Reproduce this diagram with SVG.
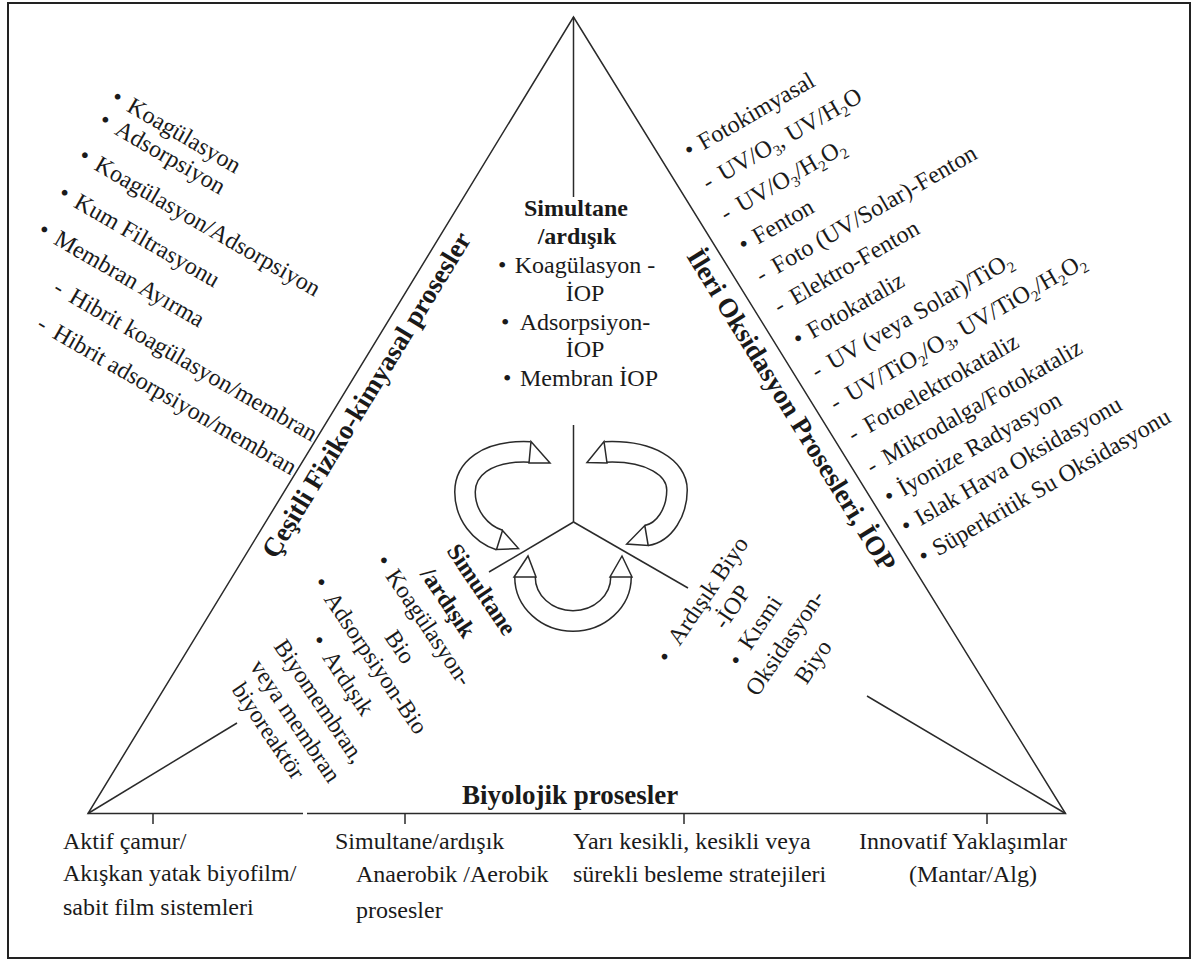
<svg xmlns="http://www.w3.org/2000/svg" width="1198" height="974" viewBox="0 0 1198 974">
<style>
.t{font-family:"Liberation Serif","Times New Roman",serif;font-size:24px;fill:#1a1a1a}
.b{font-weight:bold}
.L{font-size:27px;font-weight:bold}
.m{text-anchor:middle}
.s{font-size:15px}
.ln{stroke:#2a2a2a;stroke-width:1.5;fill:none}
.bo{fill:none;stroke:#2a2a2a;stroke-width:22}
.bi{fill:none;stroke:#fff;stroke-width:19}
.hd{fill:#fff;stroke:#2a2a2a;stroke-width:1.5;stroke-linejoin:miter}
</style>
<rect x="0" y="0" width="1198" height="974" fill="#fff"/>
<rect x="8" y="3" width="1182" height="955" fill="none" stroke="#222" stroke-width="2"/>

<g id="connectors" class="ln">
  <path d="M303,813.5 L88,813.5 L573.5,17 L1065.5,813.5 L307,813.5"/>
  <line x1="573.5" y1="17" x2="573.5" y2="197"/>
  <line x1="573.5" y1="425" x2="573.5" y2="522"/>
  <line x1="573.5" y1="522" x2="489" y2="572"/>
  <line x1="573.5" y1="522" x2="688" y2="588"/>
  <line x1="88" y1="813.5" x2="237" y2="723"/>
  <line x1="867" y1="696" x2="1065.5" y2="813.5"/>
  <line x1="153" y1="813.5" x2="153" y2="824"/>
  <line x1="405" y1="813.5" x2="405" y2="824"/>
  <line x1="684" y1="813.5" x2="684" y2="824"/>
  <line x1="987" y1="813.5" x2="987" y2="824"/>
</g>

<g id="cycle-arrows">
  <path class="bo" d="M530,452 C485,450 465,470 465,492 C465,515 480.5,534 499.5,540"/>
  <path class="bi" d="M530,452 C485,450 465,470 465,492 C465,515 480.5,534 499.5,540"/>
  <polygon class="hd" points="531,441.5 529,463 550,463"/>
  <polygon class="hd" points="502.5,530.5 496.5,549.5 518.5,548.5"/>
  <path class="bo" d="M605,452 C650,450 677,468 677,490 C677,512 664.5,532.5 646.5,535.5"/>
  <path class="bi" d="M605,452 C650,450 677,468 677,490 C677,512 664.5,532.5 646.5,535.5"/>
  <polygon class="hd" points="587,462.5 604,441.5 607,463"/>
  <polygon class="hd" points="644.8,525.5 648.2,545.5 626.7,544"/>
  <path class="bo" d="M525,577 A48,44 0 0 0 621,577"/>
  <path class="bi" d="M525,577 A48,44 0 0 0 621,577"/>
  <polygon class="hd" points="514,577 536,577 528,556"/>
  <polygon class="hd" points="610,577 632,577 622,556"/>
</g>

<g id="label-fiziko">
  <text class="t L" transform="translate(276,560) rotate(-58.6)">Çeşitli Fiziko-kimyasal prosesler</text>
</g>
<g id="label-iop">
  <text class="t L" transform="translate(686,256) rotate(58.3)">İleri Oksidasyon Prosesleri, İOP</text>
</g>
<g id="label-bio">
  <text class="t L" x="462" y="804">Biyolojik prosesler</text>
</g>

<g id="list-fiziko" transform="rotate(30)">
  <text class="t" y="33"><tspan x="146">•</tspan><tspan x="164">Koagülasyon</tspan></text>
  <text class="t" y="59"><tspan x="147">•</tspan><tspan x="165">Adsorpsiyon</tspan></text>
  <text class="t" y="100"><tspan x="147">•</tspan><tspan x="165">Koagülasyon/Adsorpsiyon</tspan></text>
  <text class="t" y="142.5"><tspan x="148">•</tspan><tspan x="166">Kum Filtrasyonu</tspan></text>
  <text class="t" y="184.5"><tspan x="149">•</tspan><tspan x="167">Membran Ayırma</tspan></text>
  <text class="t" y="227"><tspan x="191">-</tspan><tspan x="209">Hibrit koagülasyon/membran</tspan></text>
  <text class="t" y="266.5"><tspan x="195">-</tspan><tspan x="213">Hibrit adsorpsiyon/membran</tspan></text>
</g>

<g id="list-iop" transform="rotate(-30)">
  <text class="t" y="482"><tspan x="518">•</tspan><tspan x="534">Fotokimyasal</tspan></text>
  <text class="t" y="519"><tspan x="518">-</tspan><tspan x="536">UV/O</tspan><tspan class="s" dy="5">3</tspan><tspan dy="-5">, UV/H</tspan><tspan class="s" dy="5">2</tspan><tspan dy="-5">O</tspan></text>
  <text class="t" y="555"><tspan x="518">-</tspan><tspan x="536">UV/O</tspan><tspan class="s" dy="5">3</tspan><tspan dy="-5">/H</tspan><tspan class="s" dy="5">2</tspan><tspan dy="-5">O</tspan><tspan class="s" dy="5">2</tspan></text>
  <text class="t" y="591"><tspan x="518">•</tspan><tspan x="534">Fenton</tspan></text>
  <text class="t" y="626"><tspan x="518">-</tspan><tspan x="536">Foto (UV/Solar)-Fenton</tspan></text>
  <text class="t" y="662"><tspan x="518">-</tspan><tspan x="536">Elektro-Fenton</tspan></text>
  <text class="t" y="700"><tspan x="518">•</tspan><tspan x="534">Fotokataliz</tspan></text>
  <text class="t" y="737"><tspan x="518">-</tspan><tspan x="536">UV (veya Solar)/TiO</tspan><tspan class="s" dy="5">2</tspan></text>
  <text class="t" y="774"><tspan x="518">-</tspan><tspan x="536">UV/TiO</tspan><tspan class="s" dy="5">2</tspan><tspan dy="-5">/O</tspan><tspan class="s" dy="5">3</tspan><tspan dy="-5">, UV/TiO</tspan><tspan class="s" dy="5">2</tspan><tspan dy="-5">/H</tspan><tspan class="s" dy="5">2</tspan><tspan dy="-5">O</tspan><tspan class="s" dy="5">2</tspan></text>
  <text class="t" y="810"><tspan x="518">-</tspan><tspan x="536">Fotoelektrokataliz</tspan></text>
  <text class="t" y="847"><tspan x="518">-</tspan><tspan x="536">Mikrodalga/Fotokataliz</tspan></text>
  <text class="t" y="882"><tspan x="518">•</tspan><tspan x="534">İyonize Radyasyon</tspan></text>
  <text class="t" y="916"><tspan x="518">•</tspan><tspan x="534">Islak Hava Oksidasyonu</tspan></text>
  <text class="t" y="951"><tspan x="518">•</tspan><tspan x="534">Süperkritik Su Oksidasyonu</tspan></text>
</g>

<g id="center-top">
  <text class="t b m" x="576" y="216">Simultane</text>
  <text class="t b m" x="577" y="244">/ardışık</text>
  <text class="t" x="498" y="273">•</text>
  <text class="t m" x="585" y="273">Koagülasyon -</text>
  <text class="t m" x="585" y="301">İOP</text>
  <text class="t" x="501" y="330">•</text>
  <text class="t m" x="585" y="330">Adsorpsiyon-</text>
  <text class="t m" x="585" y="357">İOP</text>
  <text class="t" x="503" y="386">•</text>
  <text class="t m" x="589" y="386">Membran İOP</text>
</g>

<g id="center-left" transform="rotate(56)">
  <text class="t b m" x="758" y="-61.7">Simultane</text>
  <text class="t b m" x="750" y="-26.7">/ardışık</text>
  <text class="t" x="675" y="3">•</text>
  <text class="t m" x="760" y="3">Koagülasyon-</text>
  <text class="t m" x="760" y="38">Bio</text>
  <text class="t" x="658" y="67">•</text>
  <text class="t m" x="760" y="67">Adsorpsiyon-Bio</text>
  <text class="t" x="705" y="101">•</text>
  <text class="t m" x="761" y="101">Ardışık</text>
  <text class="t m" x="760" y="135">Biyomembran,</text>
  <text class="t m" x="763" y="166">veya membran</text>
  <text class="t m" x="756" y="194">biyoreaktör</text>
</g>

<g id="center-right" transform="rotate(-56)">
  <text class="t" x="-177" y="926">•</text>
  <text class="t m" x="-94" y="925">Ardışık Biyo</text>
  <text class="t m" x="-94" y="954">-İOP</text>
  <text class="t" x="-140" y="987">•</text>
  <text class="t m" x="-91" y="986">Kısmi</text>
  <text class="t m" x="-94" y="1018">Oksidasyon-</text>
  <text class="t m" x="-94" y="1052">Biyo</text>
</g>

<g id="bio-1">
  <text class="t" x="63" y="849">Aktif çamur/</text>
  <text class="t" x="63" y="881">Akışkan yatak biyofilm/</text>
  <text class="t" x="63" y="915">sabit film sistemleri</text>
</g>
<g id="bio-2">
  <text class="t" x="335" y="849">Simultane/ardışık</text>
  <text class="t" x="356" y="882">Anaerobik /Aerobik</text>
  <text class="t" x="356" y="918">prosesler</text>
</g>
<g id="bio-3">
  <text class="t" x="573" y="849">Yarı kesikli, kesikli veya</text>
  <text class="t" x="573" y="882">sürekli besleme stratejileri</text>
</g>
<g id="bio-4">
  <text class="t" x="859" y="849">Innovatif Yaklaşımlar</text>
  <text class="t" x="909" y="882">(Mantar/Alg)</text>
</g>
</svg>
